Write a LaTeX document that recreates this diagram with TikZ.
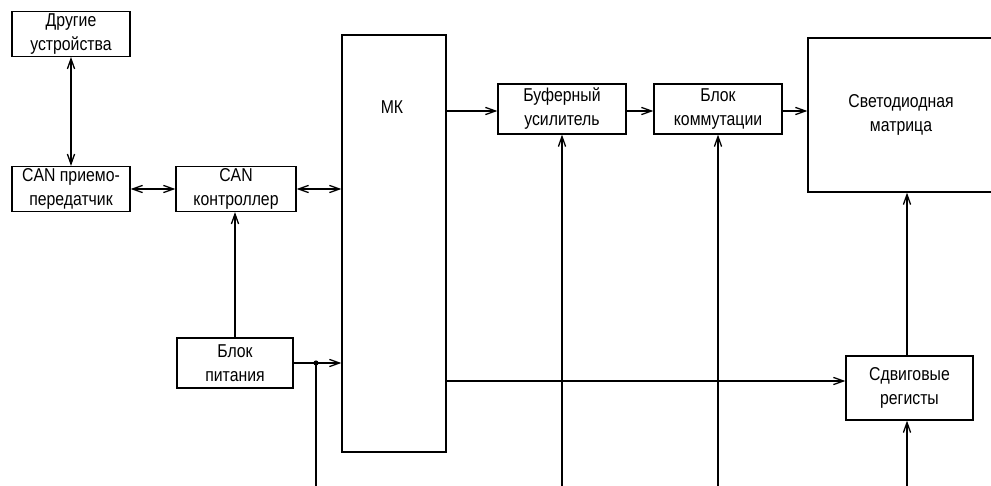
\documentclass[tikz,border=0pt]{standalone}
\usepackage{fontspec}
\setmainfont[FakeStretch=0.85]{Liberation Sans}
\usetikzlibrary{positioning,arrows.meta}
\tikzset{
  blk/.style 2 args={draw, line width=0.65pt, align=center, inner sep=1pt,
              font=\fontsize{9.3}{12}\selectfont, minimum width=#1, minimum height=#2},
  lbl/.style={font=\fontsize{9.3}{12}\selectfont, align=center},
  flow/.style={-{Straight Barb[length=5pt,width=3.6pt]}, line width=0.65pt},
  biflow/.style={{Straight Barb[length=5pt,width=3.6pt]}-{Straight Barb[length=5pt,width=3.6pt]}, line width=0.65pt},
  wire/.style={line width=0.65pt},
}
\begin{document}
\begin{tikzpicture}[x=0.5pt, y=-0.5pt]
  \useasboundingbox (0,0) rectangle (991,486);
  % CAN side
  \node[blk={59pt}{21.5pt}] (dev) at (71,34) {Другие\\устройства};
  \node[blk={59pt}{21pt}] (trx) at (71,189) {CAN приемо-\\передатчик};
  \node[blk={60pt}{21pt}] (ctrl) at (236,189) {CAN\\контроллер};
  \node[blk={58pt}{25pt}] (pwr) at (235,363) {Блок\\питания};
  % microcontroller
  \node[blk={52pt}{208.5pt}] (mk) at (394,243.5) {};
  \node[lbl] (mktxt) at (392,107) {МК};
  % output chain
  \node[blk={64pt}{25pt}] (buf) at (562,109) {Буферный\\усилитель};
  \node[blk={64pt}{25pt}] (kom) at (718,109) {Блок\\коммутации};
  \node[blk={93pt}{77pt}] (led) at (901,115) {Светодиодная\\матрица};
  \node[blk={63.5pt}{32pt}] (reg) at (909.5,388) {Сдвиговые\\регисты};
  \coordinate (bot) at (0,492);
  \coordinate (rowtop) at (0,111);
  \coordinate (rowreg) at (0,381);
  \coordinate (colreg) at (907,0);
  \coordinate (jn) at (316,363);

  \draw[biflow] (dev) -- (trx);
  \draw[biflow] (trx) -- (ctrl);
  \draw[biflow] (ctrl.east) -- (ctrl.east -| mk.west);
  \draw[flow] (pwr) -- (pwr.north |- ctrl.south);
  \draw[flow] (pwr.east) -- (pwr.east -| mk.west);
  \fill (jn) circle (2.6);
  \draw[wire] (jn) -- (jn |- bot);
  \draw[flow] (mk.east |- rowtop) -- (buf.west |- rowtop);
  \draw[flow] (buf.east |- rowtop) -- (kom.west |- rowtop);
  \draw[flow] (kom.east |- rowtop) -- (led.west |- rowtop);
  \draw[flow] (mk.east |- rowreg) -- (reg.west |- rowreg);
  \draw[flow] (colreg |- reg.north) -- (colreg |- led.south);
  \draw[flow] (buf.south |- bot) -- (buf.south);
  \draw[flow] (kom.south |- bot) -- (kom.south);
  \draw[flow] (colreg |- bot) -- (colreg |- reg.south);
\end{tikzpicture}
\end{document}
